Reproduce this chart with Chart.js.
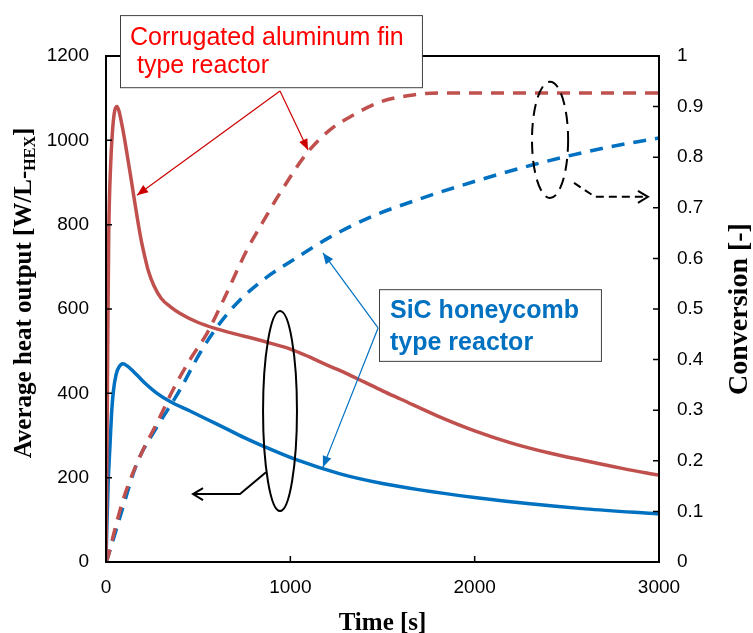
<!DOCTYPE html>
<html>
<head>
    <title>Heat output and conversion</title>
    <script src="https://cdn.jsdelivr.net/npm/chart.js@4.4.0/dist/chart.umd.min.js"></script>
    <style>
        body { margin: 0; background: #fff; }
        #wrap { width: 753px; height: 633px; }
    </style>
</head>
<body>
<div id="wrap"><canvas id="heatChart"></canvas></div>
<script>
    // Corrugated aluminum fin reactor - heat output [W/L-HEX]
    const alHeatTime = [0, 5, 10, 15, 25, 35, 45, 58, 70, 85, 100, 115, 130, 150, 170, 190, 210, 230, 260, 300, 350, 400, 500, 600, 700, 800, 900, 1000, 1100, 1200, 1300, 1400, 1500, 1600, 1800, 2000, 2200, 2400, 2600, 2800, 3000];
    const alHeat = [0, 250, 550, 780, 940, 1020, 1065, 1080, 1070, 1040, 1005, 965, 925, 870, 815, 765, 725, 690, 655, 625, 605, 590, 568, 553, 541, 530, 518, 505, 487, 467, 448, 427, 406, 386, 346, 311, 282, 259, 240, 222, 206];

    // SiC honeycomb reactor - heat output [W/L-HEX]
    const sicHeatTime = [0, 5, 12, 22, 30, 40, 55, 70, 92, 115, 146, 180, 212, 277, 350, 456, 550, 635, 750, 852, 1036, 1270, 1500, 1703, 2000, 2300, 2600, 3000];
    const sicHeat = [0, 90, 190, 280, 350, 405, 445, 462, 470, 465, 453, 438, 424, 400, 380, 358, 338, 320, 295, 275, 242, 209, 186, 171, 153, 138, 126, 114];

    // conversion [-]
    const alConvTime = [0, 11, 38, 92, 146, 200, 277, 363, 456, 548, 640, 765, 835, 944, 1090, 1215, 1340, 1486, 1666, 1812, 2200, 2600, 3000];
    const alConv = [0, 0.01, 0.05, 0.122, 0.176, 0.221, 0.275, 0.34, 0.40, 0.452, 0.52, 0.617, 0.662, 0.729, 0.808, 0.854, 0.883, 0.909, 0.923, 0.927, 0.927, 0.927, 0.927];
    const sicConvTime = [0, 22, 76, 168, 277, 401, 510, 618, 727, 873, 1015, 1215, 1449, 1666, 1812, 2317, 2700, 3000];
    const sicConv = [0, 0.024, 0.089, 0.195, 0.267, 0.34, 0.413, 0.472, 0.518, 0.563, 0.597, 0.642, 0.684, 0.713, 0.731, 0.785, 0.818, 0.838];

    const RED = '#C0504D';
    const BLUE = '#0070C0';
    const SANS = '"Liberation Sans", Arial, sans-serif';
    const SERIF = '"Liberation Serif", "Times New Roman", serif';

    function pairs(xs, ys) {
        return xs.map((x, i) => ({ x: x, y: ys[i] }));
    }

    // annotation anchors in data units (time, heat output)
    const notes = {
        redBox: [76, 1297, 1714, 1126],
        redFrom: [944, 1117], redTo: [[168, 870], [1096, 977]],
        blueBox: [1481, 647, 2685, 477],
        blueFrom: [1476, 555], blueTo: [[1177, 733], [1177, 225]],
        ellipse: [944, 358, 92, 237],
        ellipseLink: [[868, 213], [727, 161], [472, 161]],
        dashEllipse: [2409, 1001, 98, 138],
        dashLink: [[2539, 899], [2653, 866], [2940, 866]]
    };

    function arrowHead(ctx, x1, y1, x2, y2, len, wide, filled) {
        const ang = Math.atan2(y2 - y1, x2 - x1);
        const ax = x2 - len * Math.cos(ang), ay = y2 - len * Math.sin(ang);
        const nx = -Math.sin(ang) * wide, ny = Math.cos(ang) * wide;
        ctx.beginPath();
        if (filled) {
            ctx.moveTo(x2, y2);
            ctx.lineTo(ax + nx, ay + ny);
            ctx.lineTo(ax - nx, ay - ny);
            ctx.closePath();
            ctx.fill();
        } else {
            ctx.setLineDash([]);
            ctx.moveTo(ax + nx, ay + ny);
            ctx.lineTo(x2, y2);
            ctx.lineTo(ax - nx, ay - ny);
            ctx.stroke();
        }
    }

    const overlay = {
        id: 'overlay',
        afterDraw(chart) {
            const ctx = chart.ctx, a = chart.chartArea;
            const sx = chart.scales.x, sy = chart.scales.y, sy2 = chart.scales.y2;
            const X = t => sx.getPixelForValue(t);
            const Y = v => sy.getPixelForValue(v);
            ctx.save();

            // plot frame + inward ticks
            ctx.strokeStyle = '#000';
            ctx.lineWidth = 2;
            ctx.strokeRect(a.left, a.top, a.right - a.left, a.bottom - a.top);
            ctx.lineWidth = 1.5;
            ctx.beginPath();
            sx.ticks.forEach(t => { const p = X(t.value); ctx.moveTo(p, a.bottom); ctx.lineTo(p, a.bottom - 6); });
            sy.ticks.forEach(t => { const p = Y(t.value); ctx.moveTo(a.left, p); ctx.lineTo(a.left + 6, p); });
            sy2.ticks.forEach(t => { const p = sy2.getPixelForValue(t.value); ctx.moveTo(a.right, p); ctx.lineTo(a.right - 6, p); });
            ctx.stroke();

            // red label + arrows
            let b = notes.redBox;
            ctx.fillStyle = '#fff';
            ctx.fillRect(X(b[0]), Y(b[1]), X(b[2]) - X(b[0]), Y(b[3]) - Y(b[1]));
            ctx.strokeStyle = '#404040';
            ctx.lineWidth = 1;
            ctx.strokeRect(X(b[0]) + 0.5, Y(b[1]) + 0.5, X(b[2]) - X(b[0]), Y(b[3]) - Y(b[1]));
            ctx.fillStyle = '#FF0000';
            ctx.font = '25px ' + SANS;
            ctx.textAlign = 'left';
            ctx.textBaseline = 'alphabetic';
            ctx.fillText('Corrugated aluminum fin', X(b[0]) + 10, Y(b[1]) + 30);
            ctx.fillText(' type reactor', X(b[0]) + 10, Y(b[1]) + 58);

            ctx.strokeStyle = '#CC0000';
            ctx.fillStyle = '#CC0000';
            ctx.lineWidth = 1.2;
            notes.redTo.forEach(p => {
                const x1 = X(notes.redFrom[0]), y1 = Y(notes.redFrom[1]), x2 = X(p[0]), y2 = Y(p[1]);
                ctx.beginPath(); ctx.moveTo(x1, y1); ctx.lineTo(x2, y2); ctx.stroke();
                arrowHead(ctx, x1, y1, x2, y2, 11, 4.5, true);
            });

            // blue label + arrows
            b = notes.blueBox;
            ctx.fillStyle = '#fff';
            ctx.fillRect(X(b[0]), Y(b[1]), X(b[2]) - X(b[0]), Y(b[3]) - Y(b[1]));
            ctx.strokeStyle = '#404040';
            ctx.lineWidth = 1;
            ctx.strokeRect(X(b[0]) + 0.5, Y(b[1]) + 0.5, X(b[2]) - X(b[0]), Y(b[3]) - Y(b[1]));
            ctx.fillStyle = BLUE;
            ctx.font = 'bold 25px ' + SANS;
            ctx.fillText('SiC honeycomb', X(b[0]) + 11, Y(b[1]) + 29);
            ctx.fillText('type reactor', X(b[0]) + 11, Y(b[1]) + 61);

            ctx.strokeStyle = BLUE;
            ctx.fillStyle = BLUE;
            ctx.lineWidth = 1.2;
            notes.blueTo.forEach(p => {
                const x1 = X(notes.blueFrom[0]), y1 = Y(notes.blueFrom[1]), x2 = X(p[0]), y2 = Y(p[1]);
                ctx.beginPath(); ctx.moveTo(x1, y1); ctx.lineTo(x2, y2); ctx.stroke();
                arrowHead(ctx, x1, y1, x2, y2, 11, 4.5, true);
            });

            // solid ellipse -> left axis
            ctx.strokeStyle = '#000';
            ctx.lineWidth = 2;
            let e = notes.ellipse;
            ctx.beginPath();
            ctx.ellipse(X(e[0]), Y(e[1]), X(e[2]) - X(0), Y(0) - Y(e[3]), 0, 0, Math.PI * 2);
            ctx.stroke();
            let l = notes.ellipseLink;
            ctx.beginPath();
            ctx.moveTo(X(l[0][0]), Y(l[0][1]));
            ctx.lineTo(X(l[1][0]), Y(l[1][1]));
            ctx.lineTo(X(l[2][0]), Y(l[2][1]));
            ctx.stroke();
            arrowHead(ctx, X(l[1][0]), Y(l[1][1]), X(l[2][0]), Y(l[2][1]), 10, 6, false);

            // dashed ellipse -> right axis
            e = notes.dashEllipse;
            ctx.setLineDash([12, 7]);
            ctx.beginPath();
            ctx.ellipse(X(e[0]), Y(e[1]), X(e[2]) - X(0), Y(0) - Y(e[3]), 0, 0, Math.PI * 2);
            ctx.stroke();
            l = notes.dashLink;
            ctx.setLineDash([8, 5]);
            ctx.beginPath();
            ctx.moveTo(X(l[0][0]), Y(l[0][1]));
            ctx.lineTo(X(l[1][0]), Y(l[1][1]));
            ctx.lineTo(X(l[2][0]), Y(l[2][1]));
            ctx.stroke();
            arrowHead(ctx, X(l[1][0]), Y(l[1][1]), X(l[2][0]), Y(l[2][1]), 10, 6, false);
            ctx.setLineDash([]);

            // axis titles
            ctx.fillStyle = '#000';
            ctx.textAlign = 'center';
            ctx.font = 'bold 25px ' + SERIF;
            ctx.fillText('Time [s]', (a.left + a.right) / 2, 630);

            ctx.save();
            ctx.translate(a.right + 88, (a.top + a.bottom) / 2);
            ctx.rotate(-Math.PI / 2);
            ctx.font = 'bold 28px ' + SERIF;
            ctx.fillText('Conversion [-]', 0, 0);
            ctx.restore();

            ctx.save();
            ctx.translate(31, (a.top + a.bottom) / 2 - 16);
            ctx.rotate(-Math.PI / 2);
            const big = 'bold 25px ' + SERIF, small = 'bold 16px ' + SERIF;
            const p1 = 'Average heat output [W/L-', p2 = 'HEX', p3 = ']';
            ctx.font = big;
            const w1 = ctx.measureText(p1).width, w3 = ctx.measureText(p3).width;
            ctx.font = small;
            const w2 = ctx.measureText(p2).width;
            let x = -(w1 + w2 + w3) / 2;
            ctx.textAlign = 'left';
            ctx.font = big; ctx.fillText(p1, x, 0); x += w1;
            ctx.font = small; ctx.fillText(p2, x, 4); x += w2;
            ctx.font = big; ctx.fillText(p3, x, 0);
            ctx.restore();

            ctx.restore();
        }
    };

    const tickFont = { family: SANS, size: 19 };
    const plain = v => String(Number(v.toFixed(1)));

    new Chart(document.getElementById('heatChart'), {
        type: 'line',
        data: {
            datasets: [
                { label: 'Al fin heat output', data: pairs(alHeatTime, alHeat), yAxisID: 'y', borderColor: RED, borderWidth: 3.5 },
                { label: 'SiC heat output', data: pairs(sicHeatTime, sicHeat), yAxisID: 'y', borderColor: BLUE, borderWidth: 3.5 },
                { label: 'Al fin conversion', data: pairs(alConvTime, alConv), yAxisID: 'y2', borderColor: RED, borderWidth: 3.5, borderDash: [13, 9] },
                { label: 'SiC conversion', data: pairs(sicConvTime, sicConv), yAxisID: 'y2', borderColor: BLUE, borderWidth: 3.5, borderDash: [13, 9] }
            ]
        },
        options: {
            responsive: true,
            maintainAspectRatio: false,
            animation: false,
            layout: { padding: { top: 56 } },
            elements: {
                point: { radius: 0 },
                line: { cubicInterpolationMode: 'monotone', fill: false }
            },
            plugins: {
                legend: { display: false },
                tooltip: { enabled: false }
            },
            scales: {
                x: {
                    type: 'linear', min: 0, max: 3000,
                    ticks: { stepSize: 1000, font: tickFont, color: '#000', padding: 14, maxRotation: 0, callback: plain },
                    grid: { drawOnChartArea: false, drawTicks: false },
                    border: { display: true, color: '#000', width: 2 },
                    afterFit: s => { s.height = 71; }
                },
                y: {
                    position: 'left', min: 0, max: 1200,
                    ticks: { stepSize: 200, font: tickFont, color: '#000', padding: 17, callback: plain },
                    grid: { drawOnChartArea: false, drawTicks: false },
                    border: { display: true, color: '#000', width: 2 },
                    afterFit: s => { s.width = 106; }
                },
                y2: {
                    position: 'right', min: 0, max: 1,
                    ticks: { stepSize: 0.1, font: tickFont, color: '#000', padding: 18, callback: plain },
                    grid: { drawOnChartArea: false, drawTicks: false },
                    border: { display: true, color: '#000', width: 2 },
                    afterFit: s => { s.width = 94; }
                }
            }
        },
        plugins: [overlay]
    });
</script>
</body>
</html>
